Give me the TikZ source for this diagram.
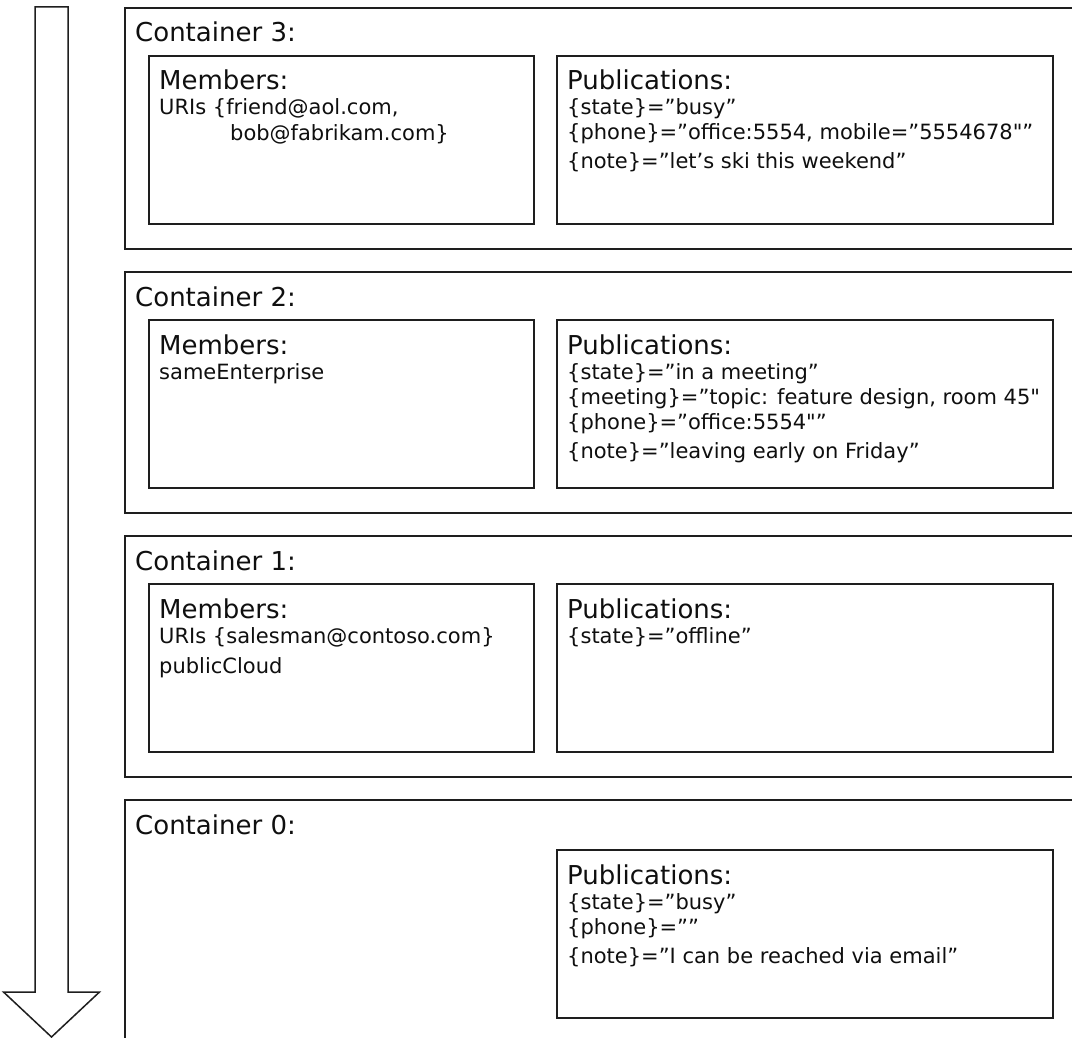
\documentclass[tikz,border=0pt]{standalone}
\usepackage{fontspec}
\newfontfamily\boxfont{DejaVu Sans}
\usepackage{xcolor}
\usepackage{tikz}
\usetikzlibrary{positioning, calc}
\definecolor{boxLine}{RGB}{30, 30, 30}
\definecolor{boxText}{RGB}{15, 15, 15}
\tikzset{
    base/.style={
        font=\boxfont\fontsize{21}{25}\selectfont,
        text=boxText,
        inner sep=0pt
    },
    frame/.style={
        rectangle,
        draw=boxLine,
        line width=1.6pt,
        fill=white,
        inner sep=0pt,
        anchor=north west
    },
    container/.style={
        frame,
        minimum width=1000pt,
        minimum height=241pt
    },
    members/.style={
        frame,
        minimum width=385pt,
        minimum height=168pt
    },
    pubs/.style={
        frame,
        minimum width=496pt,
        minimum height=168pt
    },
    heading/.style={
        base,
        font=\boxfont\fontsize{26}{30}\selectfont,
        anchor=base west
    },
    entry/.style={
        base,
        anchor=base west
    },
    order/.style={
        draw=boxLine,
        line width=1.5pt,
        fill=white,
        line join=miter
    }
}

\begin{document}
\begin{tikzpicture}[x=1pt, y=-1pt]
  \useasboundingbox (0,0) rectangle (1072,1038);
  \clip (0,0) rectangle (1072,1038);

  % Order of the containers
  \draw[order] (35,7) -- (68,7) -- (68,992) -- (99.5,992) -- (51.5,1037)
    -- (3.5,992) -- (35,992) -- cycle;

  % Container 3
  \node[container] (c3) at (124,7) {};
  \node[heading] (c3t) at ($(c3.north west)+(11,35)$) {Container 3:};
  \node[members] (m3) at ($(c3.north west)+(24,48)$) {};
  \node[heading] (m3t) at ($(m3.north west)+(11,35)$) {Members:};
  \node[entry] (m3a) at ($(m3t.base west)+(0,25)$) {URIs \{friend@aol.com,};
  \node[entry] (m3b) at ($(m3a.base west)+(71,26)$) {bob@fabrikam.com\}};
  \node[pubs] (p3) at ($(c3.north west)+(432,48)$) {};
  \node[heading] (p3t) at ($(p3.north west)+(11,35)$) {Publications:};
  \node[entry] (p3a) at ($(p3t.base west)+(0,25)$) {\{state\}=”busy”};
  \node[entry] (p3b) at ($(p3a.base west)+(0,25)$) {\{phone\}=”office:5554, mobile=”5554678"”};
  \node[entry] (p3c) at ($(p3b.base west)+(0,29)$) {\{note\}=”let’s ski this weekend”};

  % Container 2
  \node[container] (c2) at (124,271) {};
  \node[heading] (c2t) at ($(c2.north west)+(11,35)$) {Container 2:};
  \node[members] (m2) at ($(c2.north west)+(24,48)$) {};
  \node[heading] (m2t) at ($(m2.north west)+(11,35)$) {Members:};
  \node[entry] (m2a) at ($(m2t.base west)+(0,25)$) {sameEnterprise};
  \node[pubs] (p2) at ($(c2.north west)+(432,48)$) {};
  \node[heading] (p2t) at ($(p2.north west)+(11,35)$) {Publications:};
  \node[entry] (p2a) at ($(p2t.base west)+(0,25)$) {\{state\}=”in a meeting”};
  \node[entry] (p2b) at ($(p2a.base west)+(0,25)$) {\{meeting\}=”topic: feature design, room 45"};
  \node[entry] (p2c) at ($(p2b.base west)+(0,25)$) {\{phone\}=”office:5554"”};
  \node[entry] (p2d) at ($(p2c.base west)+(0,29)$) {\{note\}=”leaving early on Friday”};

  % Container 1
  \node[container] (c1) at (124,535) {};
  \node[heading] (c1t) at ($(c1.north west)+(11,35)$) {Container 1:};
  \node[members] (m1) at ($(c1.north west)+(24,48)$) {};
  \node[heading] (m1t) at ($(m1.north west)+(11,35)$) {Members:};
  \node[entry] (m1a) at ($(m1t.base west)+(0,25)$) {URIs \{salesman@contoso.com\}};
  \node[entry] (m1b) at ($(m1a.base west)+(0,30)$) {publicCloud};
  \node[pubs] (p1) at ($(c1.north west)+(432,48)$) {};
  \node[heading] (p1t) at ($(p1.north west)+(11,35)$) {Publications:};
  \node[entry] (p1a) at ($(p1t.base west)+(0,25)$) {\{state\}=”offline”};

  % Container 0
  \node[container, minimum height=300pt] (c0) at (124,799) {};
  \node[heading] (c0t) at ($(c0.north west)+(11,35)$) {Container 0:};
  \node[pubs] (p0) at ($(c0.north west)+(432,50)$) {};
  \node[heading] (p0t) at ($(p0.north west)+(11,35)$) {Publications:};
  \node[entry] (p0a) at ($(p0t.base west)+(0,25)$) {\{state\}=”busy”};
  \node[entry] (p0b) at ($(p0a.base west)+(0,25)$) {\{phone\}=””};
  \node[entry] (p0c) at ($(p0b.base west)+(0,29)$) {\{note\}=”I can be reached via email”};

\end{tikzpicture}
\end{document}
